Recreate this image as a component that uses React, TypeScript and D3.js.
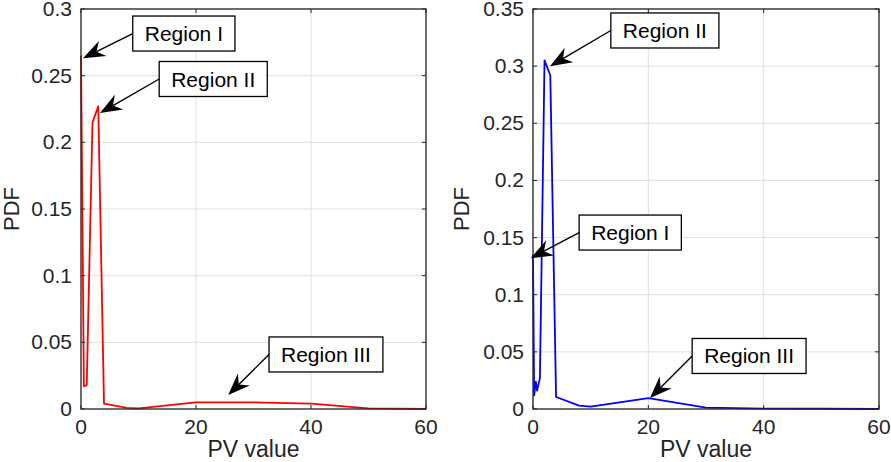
import React, { useEffect, useRef } from 'react';
import * as d3 from 'd3';

// ---- Data ----
const redX = [0, 0.5, 1, 2, 3, 4, 8, 10, 20, 30, 40, 50, 60];
const redY = [0.265, 0.017, 0.018, 0.215, 0.227, 0.004, 0.0008, 0.0005, 0.005, 0.005, 0.004, 0.0005, 0];

const blueX = [0, 0.2, 0.5, 0.7, 1.2, 2, 3, 4, 8, 10, 20, 30, 40, 50, 60];
const blueY = [0.135, 0.012, 0.024, 0.016, 0.027, 0.305, 0.292, 0.0105, 0.003, 0.002, 0.0095, 0.0012, 0.0004, 0.0002, 0];

const xTicks = [0, 20, 40, 60];
const leftYTicks = [0, 0.05, 0.1, 0.15, 0.2, 0.25, 0.3];
const rightYTicks = [0, 0.05, 0.1, 0.15, 0.2, 0.25, 0.3, 0.35];
const leftYTickLabels = ['0', '0.05', '0.1', '0.15', '0.2', '0.25', '0.3'];
const rightYTickLabels = ['0', '0.05', '0.1', '0.15', '0.2', '0.25', '0.3', '0.35'];

const xLabel = 'PV value';
const yLabel = 'PDF';

// annotations: label, arrow tip (data), box left-middle (data)
const leftNotes = [
  { label: 'Region I', tipX: 0.35, tipY: 0.263, boxX: 9.0, boxY: 0.2816 },
  { label: 'Region II', tipX: 3.3, tipY: 0.222, boxX: 13.6, boxY: 0.2475 },
  { label: 'Region III', tipX: 25.6, tipY: 0.0105, boxX: 32.7, boxY: 0.0409 },
];
const rightNotes = [
  { label: 'Region II', tipX: 2.95, tipY: 0.300, boxX: 13.5, boxY: 0.3312 },
  { label: 'Region I', tipX: -0.4, tipY: 0.132, boxX: 8.0, boxY: 0.1544 },
  { label: 'Region III', tipX: 20.3, tipY: 0.0096, boxX: 27.6, boxY: 0.0464 },
];

const W = 891;
const H = 462;
const FONT = '"Liberation Sans", Arial, Helvetica, sans-serif';

type Note = { label: string; tipX: number; tipY: number; boxX: number; boxY: number };

function drawPanel(
  svg: d3.Selection<SVGSVGElement, unknown, null, undefined>,
  opts: {
    left: number; right: number; top: number; bottom: number;
    yMax: number; yTicks: number[]; yTickLabels: string[];
    xs: number[]; ys: number[]; color: string; notes: Note[]; yLabelX: number;
  }
) {
  const x = d3.scaleLinear().domain([0, 60]).range([opts.left, opts.right]);
  const y = d3.scaleLinear().domain([0, opts.yMax]).range([opts.bottom, opts.top]);
  const g = svg.append('g');
  const axisColor = '#262626';
  const tl = 4;

  // grid
  g.selectAll('.gx').data(xTicks).enter().append('line')
    .attr('x1', d => x(d)).attr('x2', d => x(d))
    .attr('y1', opts.top).attr('y2', opts.bottom)
    .attr('stroke', '#dfdfdf').attr('stroke-width', 1);
  g.selectAll('.gy').data(opts.yTicks).enter().append('line')
    .attr('x1', opts.left).attr('x2', opts.right)
    .attr('y1', d => y(d)).attr('y2', d => y(d))
    .attr('stroke', '#dfdfdf').attr('stroke-width', 1);

  // curve
  const pts = opts.xs.map((v, i) => [v, opts.ys[i]] as [number, number]);
  const line = d3.line<[number, number]>().x(d => x(d[0])).y(d => y(d[1]));
  g.append('path').attr('d', line(pts) as string)
    .attr('fill', 'none').attr('stroke', opts.color).attr('stroke-width', 1.8)
    .attr('stroke-linejoin', 'round');

  // box
  g.append('rect').attr('x', opts.left).attr('y', opts.top)
    .attr('width', opts.right - opts.left).attr('height', opts.bottom - opts.top)
    .attr('fill', 'none').attr('stroke', axisColor).attr('stroke-width', 1.3);

  // ticks
  xTicks.forEach(t => {
    g.append('line').attr('x1', x(t)).attr('x2', x(t)).attr('y1', opts.bottom).attr('y2', opts.bottom - tl)
      .attr('stroke', axisColor);
    g.append('line').attr('x1', x(t)).attr('x2', x(t)).attr('y1', opts.top).attr('y2', opts.top + tl)
      .attr('stroke', axisColor);
    g.append('text').attr('x', x(t)).attr('y', opts.bottom + 25)
      .attr('text-anchor', 'middle').attr('font-family', FONT).attr('font-size', 21)
      .attr('fill', axisColor).text(String(t));
  });
  opts.yTicks.forEach((t, i) => {
    g.append('line').attr('x1', opts.left).attr('x2', opts.left + tl).attr('y1', y(t)).attr('y2', y(t))
      .attr('stroke', axisColor);
    g.append('line').attr('x1', opts.right).attr('x2', opts.right - tl).attr('y1', y(t)).attr('y2', y(t))
      .attr('stroke', axisColor);
    g.append('text').attr('x', opts.left - 9).attr('y', y(t) + 7)
      .attr('text-anchor', 'end').attr('font-family', FONT).attr('font-size', 21)
      .attr('fill', axisColor).text(opts.yTickLabels[i]);
  });

  // axis labels
  g.append('text').attr('x', (opts.left + opts.right) / 2).attr('y', 457)
    .attr('text-anchor', 'middle').attr('font-family', FONT).attr('font-size', 23)
    .attr('fill', axisColor).text(xLabel);
  g.append('text')
    .attr('transform', `translate(${opts.yLabelX},${(opts.top + opts.bottom) / 2}) rotate(-90)`)
    .attr('text-anchor', 'middle').attr('font-family', FONT).attr('font-size', 22)
    .attr('fill', axisColor).text(yLabel);

  // annotations
  opts.notes.forEach(n => {
    const bx = x(n.boxX);
    const by = y(n.boxY);
    const tx = x(n.tipX);
    const ty = y(n.tipY);
    const txt = g.append('text').attr('font-family', FONT).attr('font-size', 21)
      .attr('fill', '#000').attr('x', bx + 12).attr('y', by + 7.5).text(n.label);
    const bb = (txt.node() as SVGTextElement).getBBox();
    const bw = bb.width + 24;
    const bh = 35;
    g.insert('rect', () => txt.node() as SVGTextElement)
      .attr('x', bx).attr('y', by - bh / 2).attr('width', bw).attr('height', bh)
      .attr('fill', '#fff').attr('stroke', '#000').attr('stroke-width', 1.3);
    // arrow
    const dx = tx - bx;
    const dy = ty - by;
    const len = Math.sqrt(dx * dx + dy * dy);
    const ux = dx / len;
    const uy = dy / len;
    const px = -uy;
    const py = ux;
    const hl = 22; // head length
    const hw = 8.5; // half width
    const notch = 15;
    g.append('line').attr('x1', bx).attr('y1', by)
      .attr('x2', tx - ux * notch).attr('y2', ty - uy * notch)
      .attr('stroke', '#000').attr('stroke-width', 1.4);
    const p = [
      [tx, ty],
      [tx - ux * hl + px * hw, ty - uy * hl + py * hw],
      [tx - ux * notch, ty - uy * notch],
      [tx - ux * hl - px * hw, ty - uy * hl - py * hw],
    ];
    g.append('path').attr('d', 'M' + p.map(q => q.join(',')).join('L') + 'Z').attr('fill', '#000');
  });
}

export default function App() {
  const ref = useRef<SVGSVGElement>(null);
  useEffect(() => {
    if (!ref.current) return;
    const svg = d3.select(ref.current);
    svg.selectAll('*').remove();
    svg.append('rect').attr('width', W).attr('height', H).attr('fill', '#fff');
    drawPanel(svg, {
      left: 81, right: 426, top: 9, bottom: 409, yMax: 0.3,
      yTicks: leftYTicks, yTickLabels: leftYTickLabels,
      xs: redX, ys: redY, color: '#ff0000', notes: leftNotes, yLabelX: 19,
    });
    drawPanel(svg, {
      left: 533, right: 879, top: 9, bottom: 409, yMax: 0.35,
      yTicks: rightYTicks, yTickLabels: rightYTickLabels,
      xs: blueX, ys: blueY, color: '#0000ff', notes: rightNotes, yLabelX: 469,
    });
  }, []);
  return (
    <svg ref={ref} width={W} height={H}
      style={{ position: 'absolute', left: 0, top: 0, display: 'block', background: '#fff' }} />
  );
}
